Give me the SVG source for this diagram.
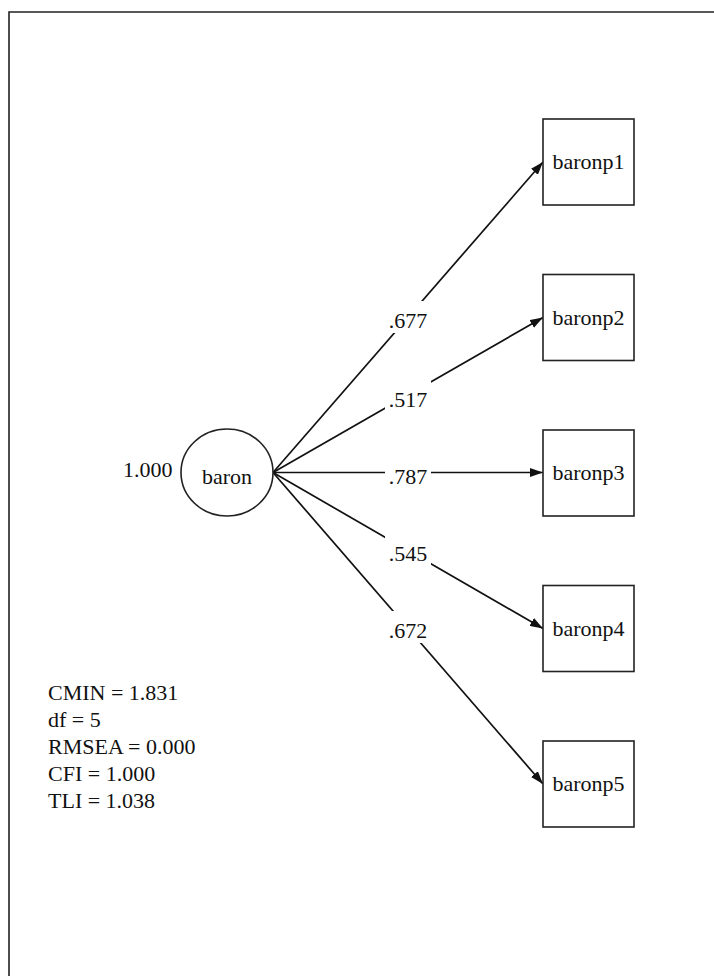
<svg xmlns="http://www.w3.org/2000/svg" width="714" height="976" viewBox="0 0 714 976">
<style>
text { font-family: "Liberation Serif", "Times New Roman", serif; font-size: 22px; fill: #111; }
.mid { text-anchor: middle; }
.shape { fill: #fff; stroke: #222; stroke-width: 1.6; }
.conn { stroke: #111; stroke-width: 1.7; fill: none; marker-end: url(#arrow); }
.lbl { fill: #fff; stroke: none; }
</style>
<defs>
<marker id="arrow" markerWidth="13" markerHeight="9" refX="13" refY="4.5" orient="auto" markerUnits="userSpaceOnUse">
<path d="M0,0 L13,4.5 L0,9 Z" fill="#111"/>
</marker>
</defs>
<rect width="714" height="976" fill="#fff"/>
<path d="M9,976 L9,12 L714,12" fill="none" stroke="#222" stroke-width="1.6"/>
<g id="connectors">
<line class="conn" x1="273" y1="472.5" x2="543" y2="162"/>
<line class="conn" x1="273" y1="472.5" x2="543" y2="317.5"/>
<line class="conn" x1="273" y1="472.5" x2="543" y2="472.5"/>
<line class="conn" x1="273" y1="472.5" x2="543" y2="628.5"/>
<line class="conn" x1="273" y1="472.5" x2="543" y2="784"/>
<g id="labels">
<rect class="lbl" x="385" y="301" width="46" height="32"/>
<text class="mid" x="408" y="328">.677</text>
<rect class="lbl" x="385" y="380" width="46" height="32"/>
<text class="mid" x="408" y="407">.517</text>
<rect class="lbl" x="385" y="458" width="46" height="30"/>
<text class="mid" x="408" y="484">.787</text>
<rect class="lbl" x="385" y="534" width="46" height="32"/>
<text class="mid" x="408" y="561">.545</text>
<rect class="lbl" x="385" y="611" width="46" height="32"/>
<text class="mid" x="408" y="638">.672</text>
</g>
</g>
<g id="baron">
<ellipse class="shape" cx="227" cy="472.5" rx="46" ry="43.5"/>
<text class="mid" x="227" y="484">baron</text>
<text x="123" y="477">1.000</text>
</g>
<g id="baronp1">
<rect class="shape" x="543" y="119" width="91" height="86"/>
<text class="mid" x="588.5" y="169">baronp1</text>
</g>
<g id="baronp2">
<rect class="shape" x="543" y="274.5" width="91" height="86"/>
<text class="mid" x="588.5" y="324.5">baronp2</text>
</g>
<g id="baronp3">
<rect class="shape" x="543" y="430" width="91" height="86"/>
<text class="mid" x="588.5" y="480">baronp3</text>
</g>
<g id="baronp4">
<rect class="shape" x="543" y="585.5" width="91" height="86"/>
<text class="mid" x="588.5" y="635.5">baronp4</text>
</g>
<g id="baronp5">
<rect class="shape" x="543" y="741" width="91" height="86"/>
<text class="mid" x="588.5" y="791">baronp5</text>
</g>
<g id="fit">
<text x="48" y="700">CMIN = 1.831</text>
<text x="48" y="727">df = 5</text>
<text x="48" y="754">RMSEA = 0.000</text>
<text x="48" y="781">CFI = 1.000</text>
<text x="48" y="808">TLI = 1.038</text>
</g>
</svg>
